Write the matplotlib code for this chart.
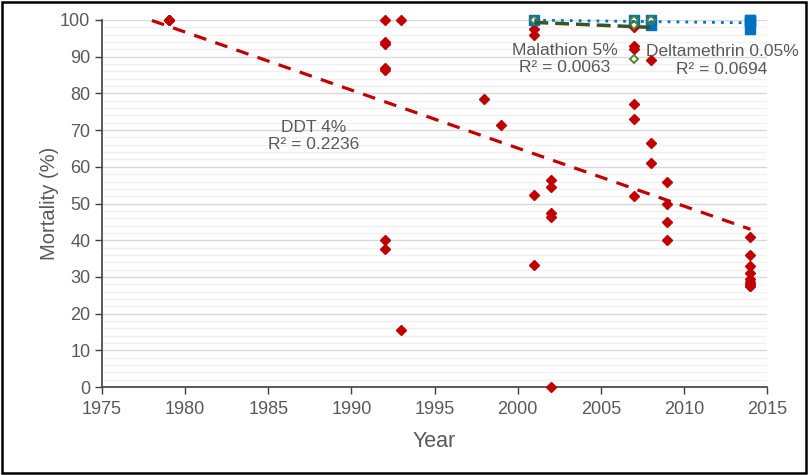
import numpy as np
import matplotlib
matplotlib.use("Agg")
import matplotlib.pyplot as plt
from matplotlib.patches import Rectangle

plt.rcParams['font.family'] = ['Liberation Sans', 'DejaVu Sans']

# DDT 4%
ddt_year = [1979, 1979, 1979,
            1992, 1992, 1992, 1992, 1992, 1992, 1992,
            1993, 1993,
            1998, 1999,
            2001, 2001, 2001, 2001,
            2002, 2002, 2002, 2002, 2002,
            2007, 2007, 2007, 2007, 2007, 2007,
            2008, 2008, 2008,
            2009, 2009, 2009, 2009,
            2014, 2014, 2014, 2014, 2014, 2014, 2014, 2014, 2014]
ddt_mort = [100, 100, 100,
            100, 94, 93.5, 87, 86.5, 40, 37.5,
            100, 15.5,
            78.5, 71.5,
            97.5, 96, 52.3, 33.3,
            56.5, 54.5, 47.3, 46.2, 0,
            98, 93, 92, 77, 73, 52,
            89, 66.5, 61,
            56, 50, 45, 40,
            41, 36, 33, 31, 29.5, 28.5, 28, 27.5, 27.5]

# Malathion 5%
mal_year = [2001, 2007, 2007, 2007, 2007, 2008, 2008]
mal_mort = [100, 100, 100, 98.5, 89.5, 100, 100]

# Deltamethrin 0.05%
del_year = [2001, 2007, 2008, 2008, 2014, 2014, 2014, 2014]
del_mort = [100, 100, 100, 98.5, 100, 100, 99.5, 97.5]

labels = ["DDT 4%\nR² = 0.2236", "Malathion 5%\nR² = 0.0063", "Deltamethrin 0.05%\nR² = 0.0694"]

red = '#C00000'
blue = '#0070C0'
green = '#548235'
gray = '#595959'

fig = plt.figure(figsize=(8.1, 4.75), dpi=100)
ax = fig.add_axes([0.126, 0.185, 0.821, 0.773])

ax.set_xlim(1975, 2015)
ax.set_ylim(0, 100)
ax.set_xticks(np.arange(1975, 2016, 5))
ax.set_yticks(np.arange(0, 101, 10))
ax.set_yticks(np.arange(0, 101, 2), minor=True)
ax.grid(axis='y', which='major', color='#d9d9d9', lw=1.0, zorder=0)
ax.grid(axis='y', which='minor', color='#f0f0f0', lw=1.0, zorder=0)
ax.set_axisbelow(True)

for s in ['top', 'right']:
    ax.spines[s].set_visible(False)
for s in ['left', 'bottom']:
    ax.spines[s].set_color('#404040')
    ax.spines[s].set_linewidth(1.2)
ax.tick_params(axis='both', which='major', direction='out', length=5, color='#404040',
               labelsize=13, labelcolor=gray, width=1.0)
ax.tick_params(axis='x', which='major', pad=5)
ax.tick_params(axis='y', which='minor', length=0)

ax.plot(ddt_year, ddt_mort, 'D', color=red, ms=5.5, mec=red, zorder=3, clip_on=False)
ax.plot(del_year, del_mort, 's', color=blue, ms=7.5, mec=blue, zorder=4, clip_on=False)
ax.plot(mal_year, mal_mort, 'D', mfc='white', mec=green, ms=4.5, mew=1.4, zorder=5, clip_on=False)

# trendlines
c = np.polyfit(ddt_year, ddt_mort, 1)
xs = np.array([1978, max(ddt_year)])
ax.plot(xs, np.polyval(c, xs), color=red, lw=2.3, dashes=(4, 3), zorder=6, clip_on=False)

c = np.polyfit(mal_year, mal_mort, 1)
xs = np.array([min(mal_year), max(mal_year)])
ax.plot(xs, np.polyval(c, xs), color='#375623', lw=2.5, dashes=(4, 2), zorder=6, clip_on=False)

c = np.polyfit(del_year, del_mort, 1)
xs = np.array([min(del_year), max(del_year)])
ax.plot(xs, np.polyval(c, xs), color=blue, lw=2.0, dashes=(1, 2.2), zorder=6, clip_on=False)

ax.text(1987.7, 68.4, labels[0], ha='center', va='center', fontsize=12.5, color=gray,
        linespacing=1.15, zorder=7)
ax.text(2002.85, 89.3, labels[1], ha='center', va='center', fontsize=12.5, color=gray,
        linespacing=1.2, zorder=7)
ax.text(2012.3, 89.0, labels[2], ha='center', va='center', fontsize=12.5, color=gray,
        linespacing=1.2, zorder=7)

ax.set_xlabel('Year', fontsize=15.5, color=gray, labelpad=9)
ax.set_ylabel('Mortality (%)', fontsize=14.5, color=gray, labelpad=1)

fig.patches.append(Rectangle((0.002, 0.004), 0.993, 0.992, transform=fig.transFigure,
                             fill=False, edgecolor='black', lw=1.8))

fig.savefig('out.png', dpi=100)
